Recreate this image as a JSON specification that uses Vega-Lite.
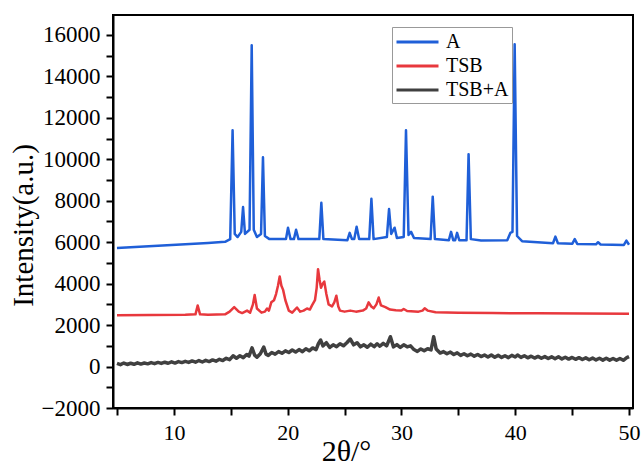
{
  "$schema": "https://vega.github.io/schema/vega-lite/v6.json",
  "autosize": {"type": "none"},
  "padding": {"left": 113, "top": 15, "right": 10, "bottom": 59},
  "width": 520,
  "height": 393,
  "background": "white",
  "config": {
    "view": {"stroke": "#000", "strokeWidth": 2},
    "font": "Liberation Serif",
    "axis": {
      "grid": false,
      "domainColor": "#000",
      "domainWidth": 2,
      "tickColor": "#000",
      "tickWidth": 2,
      "tickSize": 7,
      "labelColor": "#000",
      "labelFont": "Liberation Serif",
      "labelFlush": false,
      "labelOverlap": false,
      "titleColor": "#000",
      "titleFont": "Liberation Serif",
      "titleFontWeight": "normal"
    }
  },
  "encoding": {
    "x": {
      "field": "x",
      "type": "quantitative",
      "scale": {"domain": [4.65, 50.35], "nice": false, "zero": false},
      "axis": {
        "values": [5, 10, 15, 20, 25, 30, 35, 40, 45, 50],
        "format": "d",
        "labelExpr": "datum.value % 10 === 0 ? datum.label : ''",
        "labelFontSize": 22,
        "labelPadding": 7,
        "title": "2θ/°",
        "titleFontSize": 30,
        "titleX": 233,
        "titleY": 52,
        "titleAlign": "center",
        "titleBaseline": "alphabetic",
        "encode": {"ticks": {"update": {"y2": {"signal": "datum.value % 10 === 0 ? 7 : 4"}}}}
      }
    },
    "y": {
      "field": "y",
      "type": "quantitative",
      "scale": {"domain": [-2000, 16965], "nice": false, "zero": false},
      "axis": {
        "values": [-2000, -1000, 0, 1000, 2000, 3000, 4000, 5000, 6000, 7000, 8000, 9000, 10000, 11000, 12000, 13000, 14000, 15000, 16000],
        "format": "d",
        "labelExpr": "datum.value % 2000 === 0 ? datum.label : ''",
        "labelFontSize": 23,
        "labelPadding": 6,
        "title": "Intensity(a.u.)",
        "titleFontSize": 29,
        "titleX": -81,
        "titleY": 210,
        "titleAngle": 270,
        "titleAlign": "center",
        "titleBaseline": "alphabetic",
        "encode": {"ticks": {"update": {"x2": {"signal": "datum.value % 2000 === 0 ? -7 : -4"}}}}
      }
    }
  },
  "layer": [
    {
      "data": {"values": [
        {"x":5.0,"y":150},{"x":5.3,"y":90},{"x":5.6,"y":170},{"x":5.9,"y":100},{"x":6.2,"y":160},{"x":6.5,"y":110},{"x":6.8,"y":180},{"x":7.1,"y":120},{"x":7.4,"y":170},{"x":7.7,"y":130},
        {"x":8.0,"y":190},{"x":8.3,"y":140},{"x":8.6,"y":200},{"x":8.9,"y":150},{"x":9.2,"y":210},{"x":9.5,"y":160},{"x":9.8,"y":230},{"x":10.1,"y":170},{"x":10.4,"y":240},{"x":10.7,"y":190},
        {"x":11.0,"y":250},{"x":11.3,"y":200},{"x":11.6,"y":270},{"x":11.9,"y":210},{"x":12.2,"y":290},{"x":12.5,"y":220},{"x":12.8,"y":300},{"x":13.1,"y":240},{"x":13.4,"y":320},{"x":13.7,"y":260},
        {"x":14.0,"y":350},{"x":14.3,"y":290},{"x":14.6,"y":400},{"x":14.9,"y":330},{"x":15.2,"y":520},{"x":15.5,"y":400},{"x":15.8,"y":520},{"x":16.1,"y":430},{"x":16.4,"y":580},{"x":16.6,"y":500},
        {"x":16.87,"y":900},{"x":17.1,"y":550},{"x":17.3,"y":450},{"x":17.6,"y":620},{"x":17.9,"y":940},{"x":18.1,"y":600},{"x":18.3,"y":540},{"x":18.6,"y":680},{"x":18.9,"y":600},{"x":19.2,"y":720},
        {"x":19.5,"y":640},{"x":19.8,"y":760},{"x":20.1,"y":680},{"x":20.4,"y":800},{"x":20.7,"y":700},{"x":21.0,"y":820},{"x":21.3,"y":720},{"x":21.6,"y":860},{"x":21.9,"y":760},{"x":22.2,"y":900},
        {"x":22.5,"y":820},{"x":22.7,"y":1100},{"x":22.9,"y":1280},{"x":23.1,"y":1000},{"x":23.4,"y":1150},{"x":23.7,"y":920},{"x":24.0,"y":1050},{"x":24.3,"y":960},{"x":24.6,"y":1100},{"x":24.9,"y":1000},
        {"x":25.2,"y":1150},{"x":25.5,"y":1330},{"x":25.8,"y":1050},{"x":26.1,"y":1150},{"x":26.4,"y":950},{"x":26.7,"y":1050},{"x":27.0,"y":930},{"x":27.3,"y":1080},{"x":27.6,"y":960},{"x":27.86,"y":1100},
        {"x":28.1,"y":980},{"x":28.4,"y":1120},{"x":28.7,"y":1000},{"x":29.03,"y":1440},{"x":29.3,"y":950},{"x":29.6,"y":1060},{"x":29.9,"y":920},{"x":30.2,"y":1050},{"x":30.5,"y":950},{"x":30.8,"y":1000},
        {"x":31.1,"y":820},{"x":31.4,"y":730},{"x":31.7,"y":850},{"x":32.0,"y":760},{"x":32.3,"y":860},{"x":32.6,"y":800},{"x":32.83,"y":1440},{"x":33.05,"y":850},{"x":33.4,"y":650},{"x":33.7,"y":720},
        {"x":34.0,"y":620},{"x":34.3,"y":700},{"x":34.6,"y":580},{"x":34.9,"y":660},{"x":35.2,"y":540},{"x":35.5,"y":620},{"x":35.8,"y":520},{"x":36.1,"y":600},{"x":36.4,"y":500},{"x":36.7,"y":580},
        {"x":37.0,"y":480},{"x":37.3,"y":560},{"x":37.6,"y":460},{"x":37.9,"y":560},{"x":38.2,"y":450},{"x":38.5,"y":540},{"x":38.8,"y":440},{"x":39.1,"y":520},{"x":39.4,"y":430},{"x":39.7,"y":540},
        {"x":40.0,"y":460},{"x":40.2,"y":560},{"x":40.5,"y":440},{"x":40.8,"y":520},{"x":41.1,"y":420},{"x":41.4,"y":500},{"x":41.7,"y":410},{"x":42.0,"y":490},{"x":42.3,"y":400},{"x":42.6,"y":480},
        {"x":42.9,"y":390},{"x":43.2,"y":470},{"x":43.5,"y":380},{"x":43.8,"y":470},{"x":44.1,"y":370},{"x":44.4,"y":450},{"x":44.7,"y":360},{"x":45.0,"y":440},{"x":45.3,"y":350},{"x":45.6,"y":430},
        {"x":45.9,"y":340},{"x":46.2,"y":420},{"x":46.5,"y":330},{"x":46.8,"y":410},{"x":47.1,"y":320},{"x":47.4,"y":400},{"x":47.7,"y":310},{"x":48.0,"y":400},{"x":48.3,"y":310},{"x":48.6,"y":390},
        {"x":48.9,"y":300},{"x":49.2,"y":390},{"x":49.5,"y":300},{"x":49.8,"y":430},{"x":50.0,"y":480}
      ]},
      "mark": {"type": "line", "strokeWidth": 3.5, "strokeJoin": "round"},
      "encoding": {"color": {"datum": "TSB+A", "type": "nominal",
        "scale": {"domain": ["A", "TSB", "TSB+A"], "range": ["#1f5fd8", "#e8383d", "#404040"]},
        "legend": {"orient": "none", "legendX": 279, "legendY": 12, "title": null,
          "symbolType": "M-1,0H3", "symbolSize": 441, "symbolStrokeWidth": 3,
          "labelFont": "Liberation Serif", "labelFontSize": 20, "labelColor": "#000", "labelOffset": 27,
          "strokeColor": "#999", "fillColor": "white", "padding": 3, "rowPadding": 2}}}
    },
    {
      "data": {"values": [
        {"x":5.0,"y":2480},{"x":8.0,"y":2490},{"x":11.0,"y":2500},{"x":11.9,"y":2520},{"x":12.09,"y":2950},{"x":12.3,"y":2520},{"x":13.0,"y":2500},{"x":14.5,"y":2520},{"x":14.9,"y":2650},{"x":15.3,"y":2870},
        {"x":15.7,"y":2650},{"x":16.0,"y":2580},{"x":16.43,"y":2700},{"x":16.7,"y":2600},{"x":16.95,"y":3000},{"x":17.1,"y":3450},{"x":17.3,"y":2800},{"x":17.7,"y":2600},{"x":18.0,"y":2650},{"x":18.19,"y":2800},
        {"x":18.35,"y":2700},{"x":18.56,"y":3100},{"x":18.8,"y":3200},{"x":18.98,"y":3500},{"x":19.15,"y":3900},{"x":19.3,"y":4350},{"x":19.45,"y":3900},{"x":19.6,"y":3700},{"x":19.8,"y":3200},{"x":20.1,"y":2700},
        {"x":20.4,"y":2600},{"x":20.82,"y":2850},{"x":21.1,"y":2650},{"x":21.4,"y":2700},{"x":21.7,"y":2800},{"x":21.95,"y":2750},{"x":22.14,"y":2950},{"x":22.4,"y":3200},{"x":22.55,"y":3800},{"x":22.67,"y":4700},
        {"x":22.8,"y":4200},{"x":22.93,"y":3800},{"x":23.08,"y":4000},{"x":23.22,"y":4100},{"x":23.4,"y":3500},{"x":23.6,"y":3000},{"x":23.9,"y":2900},{"x":24.1,"y":3100},{"x":24.28,"y":3420},{"x":24.45,"y":2900},
        {"x":24.6,"y":2700},{"x":25.0,"y":2650},{"x":25.5,"y":2700},{"x":26.0,"y":2650},{"x":26.6,"y":2700},{"x":26.9,"y":2800},{"x":27.12,"y":3100},{"x":27.35,"y":2900},{"x":27.56,"y":2810},{"x":27.8,"y":3000},
        {"x":28.0,"y":3330},{"x":28.2,"y":2950},{"x":28.59,"y":2870},{"x":29.0,"y":2750},{"x":29.5,"y":2720},{"x":30.0,"y":2700},{"x":30.2,"y":2780},{"x":30.5,"y":2680},{"x":31.5,"y":2650},{"x":31.85,"y":2700},
        {"x":32.04,"y":2810},{"x":32.3,"y":2700},{"x":33.0,"y":2620},{"x":35.0,"y":2600},{"x":38.0,"y":2580},{"x":42.0,"y":2570},{"x":46.0,"y":2560},{"x":50.0,"y":2550}
      ]},
      "mark": {"type": "line", "strokeWidth": 2.5, "strokeJoin": "round"},
      "encoding": {"color": {"datum": "TSB", "type": "nominal"}}
    },
    {
      "data": {"values": [
        {"x":5.0,"y":5720},{"x":7.0,"y":5780},{"x":9.0,"y":5840},{"x":11.0,"y":5900},{"x":13.0,"y":5960},{"x":14.5,"y":6020},{"x":14.95,"y":6150},{"x":15.16,"y":11400},{"x":15.35,"y":6400},{"x":15.6,"y":6250},
        {"x":15.92,"y":6500},{"x":16.08,"y":7700},{"x":16.25,"y":6400},{"x":16.65,"y":6600},{"x":16.84,"y":15500},{"x":17.02,"y":6600},{"x":17.3,"y":6250},{"x":17.66,"y":6400},{"x":17.83,"y":10100},{"x":18.0,"y":6300},
        {"x":18.4,"y":6150},{"x":19.85,"y":6150},{"x":20.03,"y":6700},{"x":20.25,"y":6150},{"x":20.55,"y":6150},{"x":20.74,"y":6600},{"x":20.95,"y":6150},{"x":22.78,"y":6150},{"x":22.96,"y":7900},{"x":23.14,"y":6150},
        {"x":25.25,"y":6100},{"x":25.45,"y":6450},{"x":25.65,"y":6150},{"x":25.85,"y":6150},{"x":26.06,"y":6750},{"x":26.28,"y":6150},{"x":27.17,"y":6150},{"x":27.36,"y":8100},{"x":27.55,"y":6150},{"x":28.72,"y":6250},
        {"x":28.91,"y":7600},{"x":29.1,"y":6400},{"x":29.4,"y":6700},{"x":29.6,"y":6200},{"x":30.2,"y":6250},{"x":30.4,"y":11400},{"x":30.62,"y":6350},{"x":30.85,"y":6500},{"x":31.1,"y":6200},{"x":32.56,"y":6150},
        {"x":32.75,"y":8200},{"x":32.94,"y":6150},{"x":34.17,"y":6100},{"x":34.36,"y":6500},{"x":34.55,"y":6100},{"x":34.72,"y":6100},{"x":34.89,"y":6450},{"x":35.08,"y":6100},{"x":35.72,"y":6100},{"x":35.9,"y":10250},
        {"x":36.1,"y":6150},{"x":37.0,"y":6080},{"x":39.3,"y":6100},{"x":39.57,"y":6450},{"x":39.76,"y":6500},{"x":39.95,"y":15550},{"x":40.16,"y":6300},{"x":40.6,"y":6050},{"x":43.32,"y":5950},{"x":43.53,"y":6270},
        {"x":43.75,"y":5950},{"x":45.02,"y":5930},{"x":45.23,"y":6150},{"x":45.45,"y":5920},{"x":47.1,"y":5900},{"x":47.28,"y":6000},{"x":47.5,"y":5890},{"x":49.55,"y":5870},{"x":49.77,"y":6080},{"x":50.0,"y":5880}
      ]},
      "mark": {"type": "line", "strokeWidth": 2.5, "strokeJoin": "round"},
      "encoding": {"color": {"datum": "A", "type": "nominal"}}
    }
  ]
}
